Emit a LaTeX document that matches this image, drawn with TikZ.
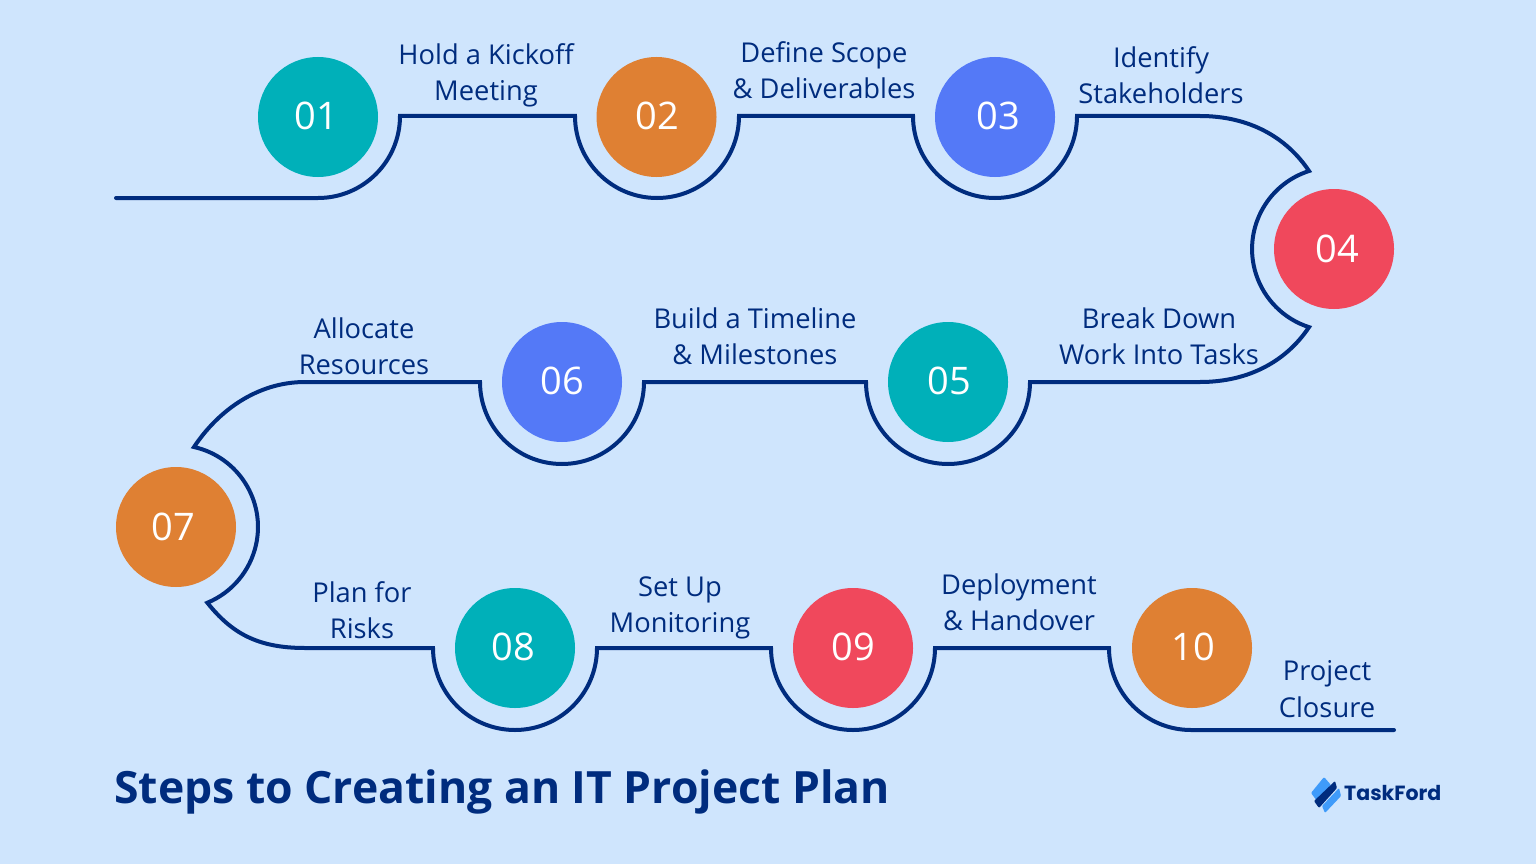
\documentclass[tikz,border=0pt]{standalone}
\usepackage{fontspec}
\setmainfont{Open Sans}
\newfontfamily\logofont{Poppins}
\definecolor{bgc}{HTML}{CFE5FD}
\definecolor{navy}{HTML}{002C7E}
\definecolor{teal1}{HTML}{00B0B9}
\definecolor{orange1}{HTML}{DF8033}
\definecolor{blue1}{HTML}{5479F7}
\definecolor{red1}{HTML}{F0485C}
\definecolor{logolight}{HTML}{3F9BFA}
\newcommand{\nudgedigits}[3]{\kern#1pt\raisebox{#2pt}{#3}}
\tikzset{
  stepdot/.style={circle,minimum size=120pt,inner sep=0pt,text=white,font=\fontsize{38}{38}\selectfont},
  steplabel/.style={text=navy,align=center,inner sep=0pt,font=\fontsize{27.3}{36.3}\selectfont},
  trail/.style={draw=navy,line width=4pt,line join=miter,miter limit=4,line cap=round},
}
\begin{document}
\begin{tikzpicture}[x=1pt,y=1pt,yscale=-1]
\useasboundingbox[fill=bgc] (0,0) rectangle (1536,864);
% trail way-points
\coordinate (s0) at (116,198);
\coordinate (a1) at (318,198);
\coordinate (b1) at (575,116);
\coordinate (b2) at (913,116);
\coordinate (b3) at (1200,116);
\coordinate (c4) at (1309,171);
\coordinate (c4e) at (1200,382);
\coordinate (b5a) at (1030,382);
\coordinate (b6a) at (644,382);
\coordinate (b6) at (305,382);
\coordinate (c7) at (194,447);
\coordinate (c7e) at (305,648);
\coordinate (b8) at (433,648);
\coordinate (b9) at (771,648);
\coordinate (b10) at (1109,648);
\coordinate (e0) at (1394,730);
\draw[trail] (s0) -- (a1) arc[start angle=90,end angle=0,radius=82pt]
  -- (b1) arc[start angle=180,end angle=0,radius=82pt]
  -- (b2) arc[start angle=180,end angle=0,radius=82pt]
  -- (b3) .. controls +(50,0) and +(-22,-33) .. (c4)
  arc[start angle=-107.8,end angle=-252.2,radius=82pt]
  .. controls +(-22,33) and +(50,0) .. (c4e)
  -- (b5a) arc[start angle=0,end angle=180,radius=82pt]
  -- (b6a) arc[start angle=0,end angle=180,radius=82pt]
  -- (b6) .. controls +(-48,0) and +(24,-36) .. (c7)
  arc[start angle=-77.3,end angle=67.5,radius=82pt]
  .. controls +(24,30) and +(-48,0) .. (c7e)
  -- (b8) arc[start angle=180,end angle=0,radius=82pt]
  -- (b9) arc[start angle=180,end angle=0,radius=82pt]
  -- (b10) arc[start angle=180,end angle=90,radius=82pt]
  -- (e0);
% step circles
\node[stepdot,fill=teal1]   (n1)  at (318,117) {\nudgedigits{-3}{2}{01}};
\node[stepdot,fill=orange1] (n2)  at (656.5,117) {\nudgedigits{1}{2}{02}};
\node[stepdot,fill=blue1]   (n3)  at (995,117) {\nudgedigits{6}{2}{03}};
\node[stepdot,fill=red1]    (n4)  at (1334,249) {\nudgedigits{6}{0}{04}};
\node[stepdot,fill=teal1]   (n5)  at (948,382) {\nudgedigits{2}{2}{05}};
\node[stepdot,fill=blue1]   (n6)  at (562,382) {\nudgedigits{0}{2}{06}};
\node[stepdot,fill=orange1] (n7)  at (176,527) {\nudgedigits{-5}{0}{07}};
\node[stepdot,fill=teal1]   (n8)  at (515,648) {\nudgedigits{-4}{3}{08}};
\node[stepdot,fill=red1]    (n9)  at (853,648) {\nudgedigits{0}{2}{09}};
\node[stepdot,fill=orange1] (n10) at (1192,648) {\nudgedigits{2}{2}{10}};
% labels
\node[steplabel] (l1)  at (486,75.3)  {Hold a Kickoff\\Meeting};
\node[steplabel] (l2)  at (824,70.5)  {Define Scope\\\& Deliverables};
\node[steplabel] (l3)  at (1161,75.5) {Identify\\Stakeholders};
\node[steplabel] (l4)  at (1159,336.5) {Break Down\\Work Into Tasks};
\node[steplabel] (l5)  at (755,336.5) {Build a Timeline\\\& Milestones};
\node[steplabel] (l6)  at (364,346.5) {Allocate\\Resources};
\node[steplabel] (l7)  at (362,610.5) {Plan for\\Risks};
\node[steplabel] (l8)  at (680,608) {Set Up\\Monitoring};
\node[steplabel] (l9)  at (1019,602) {Deployment\\\& Handover};
\node[steplabel] (l10) at (1327,689) {Project\\Closure};
% title
\node[anchor=west,inner sep=0pt,text=navy,font=\fontsize{44.5}{45}\selectfont\bfseries] (title) at (114,792) {Steps to Creating an IT Project Plan};
% logo
\fill[logolight,rounded corners=1pt] (1324,777) -- (1331,785) -- (1317,801) -- (1311,793) -- cycle;
\fill[navy,rounded corners=1pt] (1335,781) -- (1337,788) -- (1319,808) -- (1314,801) -- cycle;
\fill[logolight,rounded corners=1pt] (1339,788) -- (1341,796) -- (1325,813) -- (1322,806) -- cycle;
\node[anchor=west,inner sep=0pt,text=navy,font=\logofont\fontsize{20.5}{21}\selectfont\bfseries] (logo) at (1344,793) {TaskFord};
\end{tikzpicture}
\end{document}
